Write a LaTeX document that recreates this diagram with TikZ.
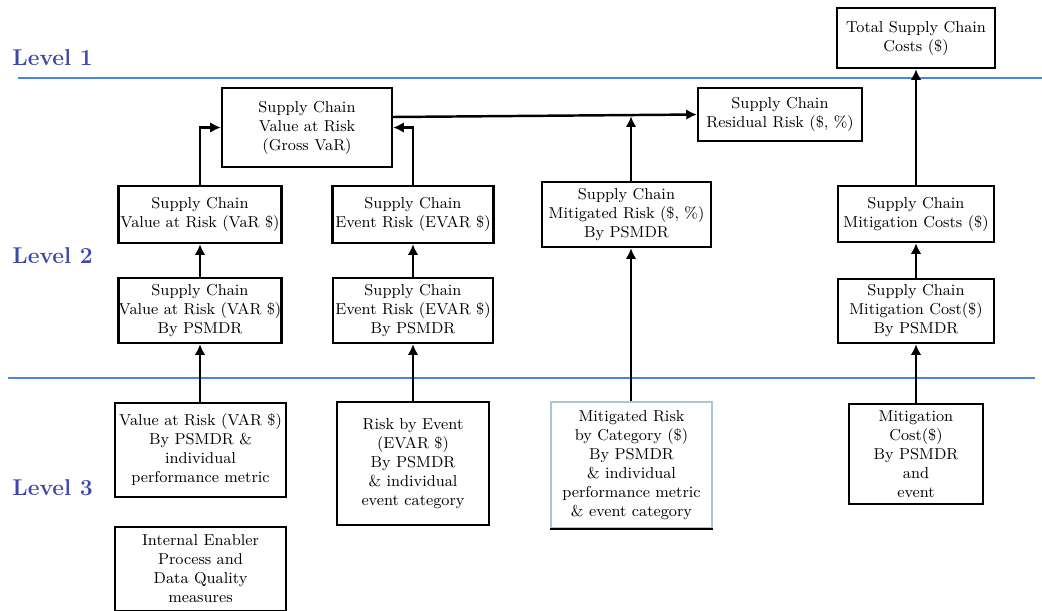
\documentclass[tikz,border=0pt]{standalone}
\usepackage{tikz}
\usetikzlibrary{arrows.meta}

\definecolor{levelblue}{RGB}{63,72,170}
\definecolor{lineblue}{RGB}{74,134,232}
\definecolor{paleedge}{RGB}{170,200,212}

\begin{document}
\begin{tikzpicture}[
    x=0.02cm, y=-0.02cm,
    every node/.style={font=\fontsize{9}{10.8}\selectfont},
    box/.style={draw, line width=1.4pt, fill=white, align=center, inner sep=0pt},
    palebox/.style={draw=paleedge, line width=1.2pt, fill=white, align=center, inner sep=0pt},
    level/.style={anchor=west, inner sep=0pt, text=levelblue, font=\fontsize{13}{15}\selectfont\bfseries},
    sep/.style={lineblue, line width=1.6pt},
    arrow/.style={-{Latex[length=6pt, width=6pt]}, line width=1.4pt}
]
\useasboundingbox (0,0) rectangle (1042,610);
\clip (0,0) rectangle (1042,610);

% Niveaux
\node[level] (L1) at (12,58) {Level 1};
\node[level] (L2) at (12,256) {Level 2};
\node[level] (L3) at (12,488) {Level 3};
\draw[sep] (18,78) -- (1042,78);
\draw[sep] (8,378) -- (1035,378);

% Niveau 1
\node[box, minimum width=3.16cm, minimum height=1.2cm] (total) at (916,38) {Total Supply Chain\\Costs (\$)};
\node[box, minimum width=3.4cm, minimum height=1.58cm] (gross) at (307,127.5) {Supply Chain\\Value at Risk\\(Gross VaR)};
\node[box, minimum width=3.28cm, minimum height=1.06cm] (resid) at (780,114.5) {Supply Chain\\Residual Risk (\$, \%)};

% Niveau 2
\node[box, minimum width=3.26cm, minimum height=1.14cm] (vars) at (200,214.5) {Supply Chain\\Value at Risk (VaR \$)};
\node[box, minimum width=3.22cm, minimum height=1.14cm] (evars) at (413,214.5) {Supply Chain\\Event Risk (EVAR \$)};
\node[box, minimum width=3.38cm, minimum height=1.3cm] (mitr) at (626.5,214.5) {Supply Chain\\Mitigated Risk (\$, \%)\\By PSMDR};
\node[box, minimum width=3.12cm, minimum height=1.12cm] (mitc) at (916,214) {Supply Chain\\Mitigation Costs (\$)};

\node[box, minimum width=3.2cm, minimum height=1.3cm] (varp) at (200,310.5) {Supply Chain\\Value at Risk (VAR \$)\\By PSMDR};
\node[box, minimum width=3.2cm, minimum height=1.3cm] (evarp) at (413,310.5) {Supply Chain\\Event Risk (EVAR \$)\\By PSMDR};
\node[box, minimum width=3.12cm, minimum height=1.28cm] (mitcp) at (916,311) {Supply Chain\\Mitigation Cost(\$)\\By PSMDR};

% Niveau 3
\node[box, minimum width=3.42cm, minimum height=1.88cm] (var3) at (200.5,450) {Value at Risk (VAR \$)\\By PSMDR \&\\individual\\performance metric};
\node[box, minimum width=3.04cm, minimum height=2.46cm] (evt3) at (413,463.5) {Risk by Event\\(EVAR \$)\\By PSMDR\\\& individual\\event category};
\node[palebox, minimum width=3.22cm, minimum height=2.52cm] (mitr3) at (631.5,465) {Mitigated Risk\\by Category (\$)\\By PSMDR\\\& individual\\performance metric\\\& event category};
\draw[line width=1.4pt] (mitr3.south west) -- (mitr3.south east);
\node[box, minimum width=2.68cm, minimum height=2cm] (mitc3) at (916,454) {Mitigation\\Cost(\$)\\By PSMDR\\and\\event};
\node[box, minimum width=3.42cm, minimum height=1.68cm] (enab) at (200.5,569) {Internal Enabler\\Process and\\Data Quality\\measures};

% Flèches
\coordinate (gout) at (392,117);
\coordinate (join) at (631,116.3);
\draw[arrow] (var3.north -| varp) -- (varp);
\draw[arrow] (varp) -- (vars);
\draw[arrow] (vars) |- (gross.west);
\draw[arrow] (evt3) -- (evarp);
\draw[arrow] (evarp) -- (evars);
\draw[arrow] (evars) |- (gross.east);
\draw[arrow] (gout) -- (resid.west);
\draw[arrow] (mitr3.north -| join) -- (join |- mitr.south);
\draw[arrow] (mitr.north -| join) -- (join);
\draw[arrow] (mitc3) -- (mitcp);
\draw[arrow] (mitcp) -- (mitc);
\draw[arrow] (mitc) -- (total);

\end{tikzpicture}
\end{document}
